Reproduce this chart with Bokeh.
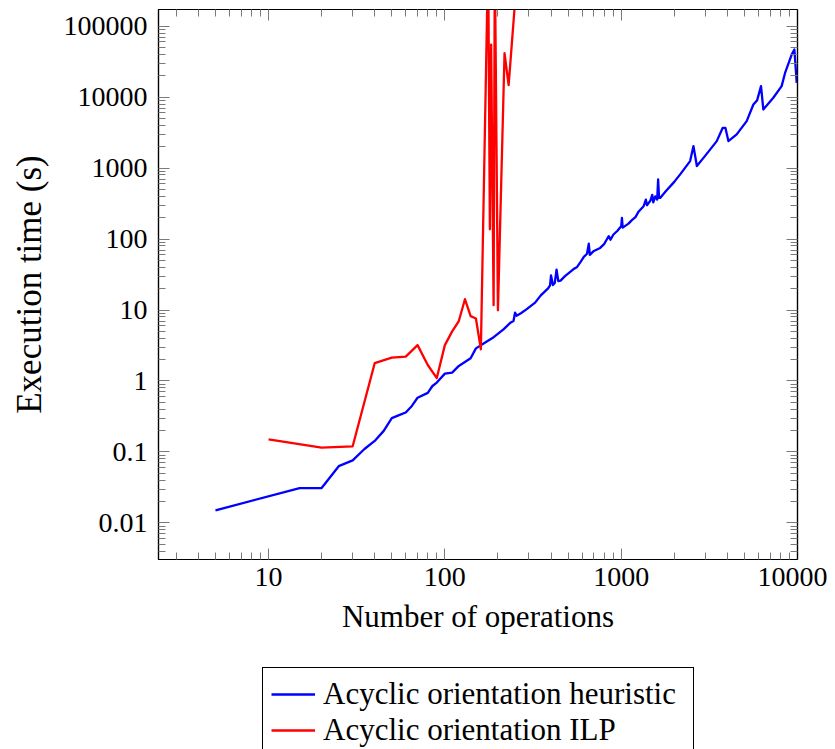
from bokeh.plotting import figure
from bokeh.layouts import column
from bokeh.models import LogAxis, FixedTicker, Legend, LegendItem, Range1d, CustomJSTickFormatter
from bokeh.embed import file_html
from bokeh.resources import INLINE

# ---- data ----
heur_x = [5, 15, 20, 25, 30, 35, 40, 45, 50, 55, 60, 65, 70, 80, 85, 90, 100, 110, 120, 140,
          150, 165, 190, 215, 235, 245, 250, 255, 270, 290, 325, 350, 385, 395, 400, 410, 420,
          430, 440, 453, 480, 510, 539, 560, 590, 614, 640, 655, 664, 700, 760, 800, 833, 850,
          870, 904, 950, 1000, 1010, 1020, 1100, 1150, 1205, 1250, 1300, 1340, 1380, 1400, 1465,
          1500, 1520, 1560, 1600, 1620, 1640, 1663, 1800, 2000, 2160, 2460, 2570, 2687, 3000,
          3484, 3767, 3900, 4056, 4520, 5150, 5620, 5900, 6210, 6400, 7290, 8130, 8500, 9270,
          9600, 9900]
heur_y = [0.015, 0.031, 0.031, 0.063, 0.076, 0.11, 0.143, 0.198, 0.30, 0.33, 0.36, 0.445, 0.58,
          0.68, 0.85, 0.95, 1.27, 1.31, 1.63, 2.09, 2.88, 3.35, 4.17, 5.35, 6.6, 7.0, 9.2, 8.3,
          9.0, 10.2, 12.7, 16.1, 20.2, 22.3, 30.8, 22.5, 24, 37, 25.5, 26, 30, 34, 38, 40, 48,
          56, 62, 86, 60, 68, 75, 85, 101, 110, 98, 116, 130, 151, 198, 145, 165, 185, 204, 240,
          268, 290, 360, 300, 348, 420, 330, 400, 360, 692, 380, 380, 480, 640, 815, 1256, 2043,
          1070, 1500, 2400, 3700, 3700, 2400, 2985, 4600, 7880, 9000, 14300, 6700, 9800, 14300,
          21900, 39800, 47000, 15900]

ilp_x = [10, 20, 30, 40, 50, 60, 70, 80, 90, 100, 110, 120, 130, 140, 150, 160, 176, 180, 183,
         189, 192, 200, 218, 230, 262]
ilp_y = [0.15, 0.115, 0.12, 1.78, 2.13, 2.2, 3.2, 1.68, 1.1, 3.2, 5.0, 7.0, 14.2, 8.2, 7.6, 2.8,
         1e6, 137, 55000, 11.7, 1e6, 9.9, 41700, 14800, 1e6]

series_names = ["Acyclic orientation heuristic", "Acyclic orientation ILP"]
series_colors = ["#0000ff", "#ff0000"]
series_x = [heur_x, ilp_x]
series_y = [heur_y, ilp_y]

x_major = [10, 100, 1000, 10000]
y_major = [0.01, 0.1, 1, 10, 100, 1000, 10000, 100000]
x_minor = [m * 10.0 ** e for e in range(0, 4) for m in range(2, 10)]
y_minor = [m * 10.0 ** e for e in range(-3, 6) for m in range(2, 10)]

FONT = "Liberation Serif"
TICK_COLOR = "#7a7a7a"
LW = 2.3

p = figure(frame_width=639, frame_height=550,
           x_axis_type="log", y_axis_type="log",
           x_range=Range1d(2.376, 10000), y_range=Range1d(0.00305, 171800),
           output_backend="svg", toolbar_location=None,
           min_border_left=158, min_border_top=9, min_border_right=30, min_border_bottom=100,
           background_fill_color="white", border_fill_color="white")
p.grid.visible = False
p.outline_line_color = "black"
p.outline_line_width = 1.2

for xs, ys, c in zip(series_x, series_y, series_colors):
    p.line(xs, ys, line_color=c, line_width=LW, line_join="round")

plain = CustomJSTickFormatter(code="""
    const v = Number(tick);
    if (v >= 1) { return Math.round(v).toString(); }
    return parseFloat(v.toPrecision(3)).toString();
""")


def style_axis(ax, ticks, minor, labels=True):
    ax.ticker = FixedTicker(ticks=ticks, minor_ticks=minor)
    ax.major_tick_in = 11
    ax.major_tick_out = 0
    ax.minor_tick_in = 7
    ax.minor_tick_out = 0
    ax.major_tick_line_color = TICK_COLOR
    ax.minor_tick_line_color = TICK_COLOR
    ax.major_tick_line_width = 1
    ax.minor_tick_line_width = 1
    ax.axis_line_color = "black"
    ax.axis_line_width = 1.2
    ax.formatter = plain
    if labels:
        ax.major_label_text_font = FONT
        ax.major_label_text_font_size = "28px"
        ax.major_label_text_color = "black"
        ax.axis_label_text_font = FONT
        ax.axis_label_text_font_size = "31px"
        ax.axis_label_text_font_style = "normal"
        ax.axis_label_text_color = "black"
    else:
        ax.major_label_text_font_size = "1px"
        ax.major_label_text_alpha = 0
        ax.major_label_standoff = 0


xa = p.xaxis[0]
style_axis(xa, x_major, x_minor)
xa.axis_label = "Number of operations"
xa.major_label_standoff = 8
xa.axis_label_standoff = 10

ya = p.yaxis[0]
style_axis(ya, y_major, y_minor)
ya.axis_label = "Execution time (s)"
ya.axis_label_text_font_size = "35px"
ya.major_label_standoff = 11
ya.axis_label_standoff = 12

top = LogAxis()
style_axis(top, x_major, x_minor, labels=False)
p.add_layout(top, "above")
right = LogAxis()
style_axis(right, y_major, y_minor, labels=False)
p.add_layout(right, "right")

# ---- legend strip below the plot (series drawn outside its visible range) ----
p2 = figure(frame_width=827, frame_height=90, x_range=Range1d(-2, -1), y_range=Range1d(-2, -1),
            output_backend="svg", toolbar_location=None,
            min_border_left=0, min_border_right=0, min_border_top=0, min_border_bottom=0,
            background_fill_color="white", border_fill_color="white")
p2.axis.visible = False
p2.grid.visible = False
p2.outline_line_color = None
lr = [p2.line(xs, ys, line_color=c, line_width=LW)
      for xs, ys, c in zip(series_x, series_y, series_colors)]

legend = Legend(items=[LegendItem(label=n, renderers=[r]) for n, r in zip(series_names, lr)],
                location=(262, -8), orientation="vertical",
                border_line_color="black", border_line_width=1.2, border_line_alpha=1,
                padding=8, spacing=0, margin=0,
                glyph_width=44, glyph_height=30, label_standoff=8, label_width=362,
                label_text_font=FONT, label_text_font_size="31px", label_text_color="black",
                background_fill_alpha=1)
p2.add_layout(legend, "center")

open("out.html", "w").write(file_html(column(p, p2, spacing=0), INLINE))
